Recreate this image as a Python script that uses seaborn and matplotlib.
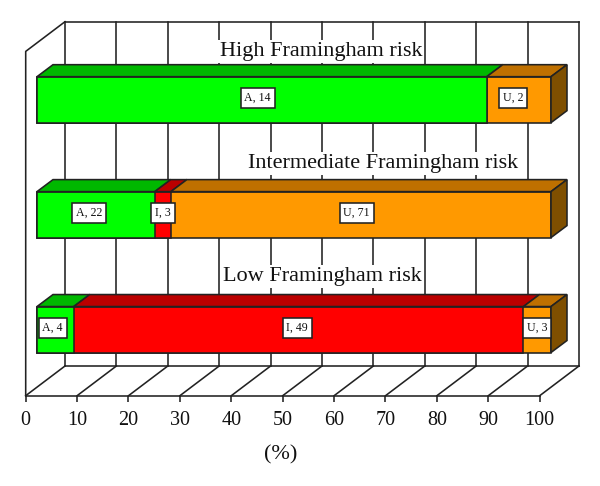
#!/usr/bin/env python3
"""Stacked 100% bars of A / I / U counts per Framingham risk group, in fake 3D."""

import matplotlib.pyplot as plt
import pandas as pd
import seaborn as sns

GROUPS = ["High Framingham risk", "Intermediate Framingham risk", "Low Framingham risk"]
STATUS = ["A", "I", "U"]
A_COUNTS = [14, 22, 4]
I_COUNTS = [0, 3, 49]
U_COUNTS = [2, 71, 3]
X_TICKS = [0, 10, 20, 30, 40, 50, 60, 70, 80, 90, 100]

FRONT = {"A": "#00FF00", "I": "#FF0000", "U": "#FF9900"}
TOP = {"A": "#00B800", "I": "#BB0000", "U": "#BF7000"}
SIDE = "#7F4F00"
LINE = "#222222"
LW = 1.15

W, H = 600, 486
# pixel layout of the box and the bars
BOX_LEFT, BOX_RIGHT, BOX_BOTTOM, BOX_TOP = 25.7, 539.7, 395.7, 21.7
WALL_DX, WALL_DY = 39.3, 29.7
BAR_LEFT, BAR_RIGHT, BAR_BOTTOM, BAR_TOP = 37.0, 551.0, 387.0, 42.2
BAR_DX, BAR_DY = 16.0, 12.0
BAR_WIDTH = 0.4
TITLE_X = [321, 383, 322]
TITLE_Y = [51.5, 163.5, 276.5]
LABEL_NUDGE = {("High Framingham risk", "A"): -3, ("High Framingham risk", "U"): -4,
               ("Intermediate Framingham risk", "A"): -5, ("Intermediate Framingham risk", "U"): -3,
               ("Low Framingham risk", "A"): -2, ("Low Framingham risk", "I"): -1}


def build_table() -> pd.DataFrame:
    counts = pd.DataFrame({"A": A_COUNTS, "I": I_COUNTS, "U": U_COUNTS}, index=GROUPS)
    shares = counts.div(counts.sum(axis=1), axis=0) * 100
    ends = shares.cumsum(axis=1)
    rows = []
    for group in GROUPS:
        for status in STATUS:
            rows.append({
                "group": group,
                "status": status,
                "count": counts.loc[group, status],
                "start": ends.loc[group, status] - shares.loc[group, status],
                "end": ends.loc[group, status],
            })
    return pd.DataFrame(rows)


def draw_box(ax) -> None:
    x_scale = (BOX_RIGHT - BOX_LEFT) / 100
    dx = WALL_DX / x_scale
    dy = WALL_DY / (BOX_BOTTOM - BOX_TOP)
    style = {"color": LINE, "linewidth": LW, "clip_on": False, "solid_capstyle": "projecting"}
    ax.set_xlim(0, 100)
    ax.set_ylim(0, 1)
    for tick in X_TICKS:
        ax.plot([tick + dx, tick + dx], [dy, 1], **style)
        ax.plot([tick, tick + dx], [0, dy], **style)
    ax.plot([dx, 100 + dx], [1, 1], **style)
    ax.plot([dx, 100 + dx], [dy, dy], **style)
    ax.plot([0, 0, dx], [0, 1 - dy, 1], **style)
    ax.set_xticks(X_TICKS)
    ax.set_yticks([])
    ax.tick_params(axis="x", bottom=True, length=4.3, width=LW, color=LINE, labelsize=14.5, pad=6.8, labelcolor="#111111")
    ax.set_xlabel("(%)", fontsize=16, color="#111111")
    ax.xaxis.set_label_coords((281 - BOX_LEFT) / (BOX_RIGHT - BOX_LEFT), -(445 - BOX_BOTTOM) / (BOX_BOTTOM - BOX_TOP))
    sns.despine(ax=ax, left=True)
    ax.spines["bottom"].set_color(LINE)
    ax.spines["bottom"].set_linewidth(LW)


def draw_bars(bax, table: pd.DataFrame) -> None:
    for status in reversed(STATUS):
        sns.barplot(
            data=table[table["status"] == status],
            x="end",
            y="group",
            order=GROUPS,
            color=FRONT[status],
            saturation=1,
            width=BAR_WIDTH,
            edgecolor=LINE,
            linewidth=LW,
            ax=bax,
        )
    for patch in bax.patches:
        patch.set_clip_on(False)
    bax.set_xlim(0, 100)
    bax.set_ylim(len(GROUPS) - 0.5, -0.5)

    dx = BAR_DX / ((BAR_RIGHT - BAR_LEFT) / 100)
    dy = BAR_DY / ((BAR_BOTTOM - BAR_TOP) / len(GROUPS))
    for position, group in enumerate(GROUPS):
        top = position - BAR_WIDTH / 2
        bottom = position + BAR_WIDTH / 2
        rows = table[(table["group"] == group) & (table["count"] > 0)]
        for _, row in rows.iterrows():
            bax.fill(
                [row["start"], row["end"], row["end"] + dx, row["start"] + dx],
                [top, top, top - dy, top - dy],
                facecolor=TOP[row["status"]], edgecolor=LINE, linewidth=LW, clip_on=False,
            )
            center = (row["start"] + row["end"]) / 2
            bax.annotate(
                f"{row['status']}, {row['count']}",
                xy=(center, position),
                xytext=(LABEL_NUDGE.get((group, row["status"]), 0), 1.2),
                textcoords="offset points",
                ha="center",
                va="center",
                fontsize=8.6,
                color="#111111",
                zorder=6,
                bbox={"boxstyle": "square,pad=0.32", "facecolor": "white", "edgecolor": LINE, "linewidth": LW},
            )
        end = rows["end"].max()
        bax.fill(
            [end, end + dx, end + dx, end],
            [top, top - dy, bottom - dy, bottom],
            facecolor=SIDE, edgecolor=LINE, linewidth=LW, clip_on=False,
        )


def draw_titles(fig) -> None:
    for group, x, y in zip(GROUPS, TITLE_X, TITLE_Y):
        fig.text(
            x / W, 1 - y / H, group, ha="center", va="center", fontsize=16, color="#111111",
            bbox={"facecolor": "white", "edgecolor": "none", "pad": 1.5},
        )


def main() -> None:
    sns.set_theme(style="white")
    plt.rcParams["font.family"] = ["Liberation Serif", "DejaVu Serif"]
    table = build_table()

    fig = plt.figure(figsize=(W / 100, H / 100), dpi=100)
    ax = fig.add_axes([BOX_LEFT / W, 1 - BOX_BOTTOM / H, (BOX_RIGHT - BOX_LEFT) / W, (BOX_BOTTOM - BOX_TOP) / H])
    bax = fig.add_axes([BAR_LEFT / W, 1 - BAR_BOTTOM / H, (BAR_RIGHT - BAR_LEFT) / W, (BAR_BOTTOM - BAR_TOP) / H])
    bax.patch.set_alpha(0)

    draw_box(ax)
    draw_titles(fig)
    draw_bars(bax, table)
    bax.axis("off")

    fig.savefig("out.png", dpi=100)
    plt.close(fig)


if __name__ == "__main__":
    main()
